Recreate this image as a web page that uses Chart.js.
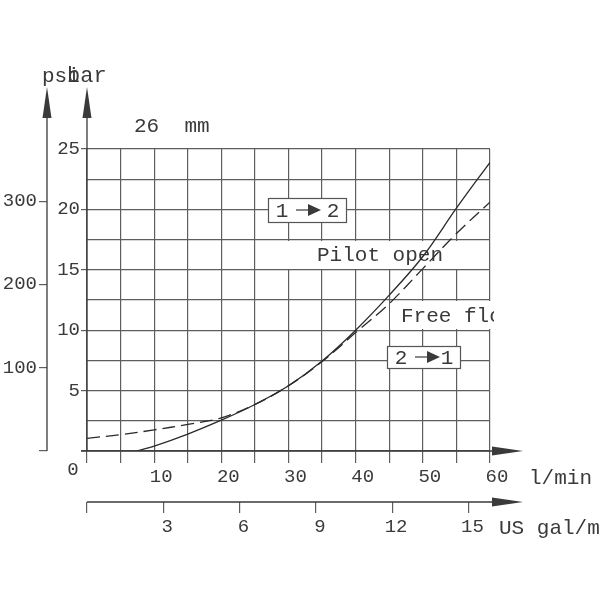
<!DOCTYPE html>
<html>
<head>
<meta charset="utf-8">
<script src="https://cdn.jsdelivr.net/npm/chart.js"></script>
<style>
  body { margin: 0; background: #fff; }
</style>
</head>
<body>
<canvas id="chart" width="600" height="600"></canvas>
<script>
// pressure drop curves, 26 mm valve
var pilotFlow = [7.4, 10, 15, 20, 25, 30, 35, 40, 45, 50, 55, 60];   // l/min, 1 -> 2
var pilotBar  = [0, 0.4, 1.4, 2.55, 3.85, 5.4, 7.45, 10.0, 12.9, 16.1, 20.1, 23.9];
var freeFlow  = [0, 5, 10, 15, 20, 25, 30, 35, 40, 45, 50, 55, 60];   // l/min, 2 -> 1
var freeBar   = [1.05, 1.35, 1.75, 2.2, 2.75, 3.85, 5.4, 7.4, 9.8, 12.2, 15.1, 18.0, 20.6];

var flowTicks = [10, 20, 30, 40, 50, 60];
var barTicks  = [5, 10, 15, 20, 25];
var psiTicks  = [100, 200, 300];
var galTicks  = [3, 6, 9, 12, 15];

var PSI_PER_BAR = 14.5038;
var L_PER_GAL = 3.78541;

var FONT = '"Liberation Mono", "DejaVu Sans Mono", monospace';
var INK = '#3a3a3a';
var GRID = '#5e5e5e';

function points(xs, ys) {
    return xs.map(function (x, i) { return { x: x, y: ys[i] }; });
}

function arrowUp(ctx, x, tip, base) {
    ctx.beginPath();
    ctx.moveTo(x, 451);
    ctx.lineTo(x, base);
    ctx.stroke();
    ctx.beginPath();
    ctx.moveTo(x, tip);
    ctx.lineTo(x - 4.5, base);
    ctx.lineTo(x + 4.5, base);
    ctx.closePath();
    ctx.fill();
}

function arrowRight(ctx, y, x0, base, tip) {
    ctx.beginPath();
    ctx.moveTo(x0, y);
    ctx.lineTo(base, y);
    ctx.stroke();
    ctx.beginPath();
    ctx.moveTo(tip, y);
    ctx.lineTo(base, y - 4.5);
    ctx.lineTo(base, y + 4.5);
    ctx.closePath();
    ctx.fill();
}

function flowBox(ctx, x, y, w, h, a, b) {
    ctx.fillStyle = '#fff';
    ctx.fillRect(x, y, w, h);
    ctx.strokeStyle = '#555';
    ctx.lineWidth = 1.2;
    ctx.strokeRect(x + 0.5, y + 0.5, w, h);
    ctx.fillStyle = INK;
    ctx.font = '21px ' + FONT;
    ctx.textAlign = 'center';
    ctx.textBaseline = 'middle';
    var cy = y + h / 2 + 1;
    ctx.fillText(a, x + 14, cy);
    ctx.fillText(b, x + w - 13, cy);
    // small arrow between the numbers
    ctx.strokeStyle = INK;
    ctx.beginPath();
    ctx.moveTo(x + 28, cy - 1);
    ctx.lineTo(x + 42, cy - 1);
    ctx.stroke();
    ctx.beginPath();
    ctx.moveTo(x + 53, cy - 1);
    ctx.lineTo(x + 40, cy - 7);
    ctx.lineTo(x + 40, cy + 5);
    ctx.closePath();
    ctx.fill();
}

var decorations = {
    id: 'decorations',
    beforeDatasetsDraw: function (chart) {
        var ctx = chart.ctx;
        ctx.save();
        // white label strips over the grid
        ctx.fillStyle = '#fff';
        ctx.fillRect(288, 241, 200, 28);
        ctx.fillRect(390, 301, 105, 28);
        ctx.fillStyle = INK;
        ctx.font = '21px ' + FONT;
        ctx.textAlign = 'left';
        ctx.textBaseline = 'middle';
        ctx.fillText('Pilot open', 317, 255);
        ctx.beginPath();
        ctx.rect(390, 300, 104, 30);
        ctx.clip();
        ctx.fillText('Free flow', 401, 316);
        ctx.restore();
    },
    afterDatasetsDraw: function (chart) {
        var ctx = chart.ctx;
        ctx.save();
        ctx.strokeStyle = INK;
        ctx.fillStyle = INK;
        ctx.lineWidth = 1.3;
        arrowUp(ctx, 47, 87, 118);
        arrowUp(ctx, 87, 87, 118);
        arrowRight(ctx, 451, 81, 492, 523);
        arrowRight(ctx, 502, 87, 492, 523);

        ctx.font = '21px ' + FONT;
        ctx.textBaseline = 'alphabetic';
        ctx.textAlign = 'left';
        ctx.fillText('psi', 42, 82);
        ctx.font = '22px ' + FONT;
        ctx.fillText('bar', 67, 82);
        ctx.font = '21px ' + FONT;
        ctx.fillText('26  mm', 134, 132);
        ctx.textBaseline = 'middle';
        ctx.fillText('l/min', 529, 478);
        ctx.fillText('US gal/min', 499, 528);
        ctx.font = '19px ' + FONT;
        ctx.textAlign = 'center';
        ctx.fillText('0', 73, 470);

        flowBox(ctx, 268, 198, 78, 24, '1', '2');
        flowBox(ctx, 387, 346, 73, 22, '2', '1');
        ctx.restore();
    }
};

var tickFont = { family: FONT, size: 19 };

new Chart(document.getElementById('chart'), {
    type: 'line',
    data: {
        datasets: [{
            label: 'Pilot open 1-2',
            data: points(pilotFlow, pilotBar),
            borderColor: '#2a2a2a',
            borderWidth: 1.3,
            pointRadius: 0,
            tension: 0.35,
            fill: false
        }, {
            label: 'Free flow 2-1',
            data: points(freeFlow, freeBar),
            borderColor: '#2a2a2a',
            borderWidth: 1.3,
            borderDash: [13, 6],
            pointRadius: 0,
            tension: 0.35,
            fill: false
        }]
    },
    options: {
        responsive: false,
        animation: false,
        layout: { padding: { top: 149, right: 110, bottom: 48, left: 0 } },
        plugins: { legend: { display: false }, tooltip: { enabled: false } },
        scales: {
            x: {
                type: 'linear', position: 'bottom', weight: 0,
                min: 0, max: 60,
                afterFit: function (s) { s.height = 51; },
                border: { display: false },
                grid: { color: GRID, lineWidth: 1.2, tickLength: 12, tickColor: GRID },
                ticks: {
                    stepSize: 5, autoSkip: false, maxRotation: 0, labelOffset: 7, padding: 3,
                    font: tickFont, color: INK,
                    callback: function (v) { return flowTicks.indexOf(v) >= 0 ? v : ''; }
                }
            },
            x2: {
                type: 'linear', position: 'bottom', weight: 1,
                min: 0, max: 60 / L_PER_GAL,
                afterFit: function (s) { s.height = 50; },
                border: { display: false },
                grid: { drawOnChartArea: false, tickLength: 11, tickColor: GRID, lineWidth: 1.2 },
                ticks: {
                    stepSize: 3, includeBounds: false, autoSkip: false, maxRotation: 0,
                    labelOffset: 4, padding: 3, font: tickFont, color: INK,
                    callback: function (v) { return galTicks.indexOf(v) >= 0 ? v : ''; }
                }
            },
            y: {
                type: 'linear', position: 'left', weight: 0,
                min: 0, max: 25,
                afterFit: function (s) { s.width = 40; },
                border: { display: false },
                grid: {
                    color: GRID, lineWidth: 1.2, tickLength: 6,
                    tickColor: function (c) {
                        var v = c.tick ? c.tick.value : -1;
                        return (v === 0 || barTicks.indexOf(v) >= 0) ? GRID : 'rgba(0,0,0,0)';
                    }
                },
                ticks: {
                    stepSize: 2.5, autoSkip: false, padding: 1, font: tickFont, color: INK,
                    callback: function (v) { return barTicks.indexOf(v) >= 0 ? v : ''; }
                }
            },
            y2: {
                type: 'linear', position: 'left', weight: 1,
                min: 0, max: 25 * PSI_PER_BAR,
                afterFit: function (s) { s.width = 47; },
                border: { display: false },
                grid: { drawOnChartArea: false, tickLength: 8, tickColor: GRID, lineWidth: 1.2 },
                ticks: {
                    stepSize: 100, includeBounds: false, autoSkip: false, padding: 2,
                    font: tickFont, color: INK,
                    callback: function (v) { return psiTicks.indexOf(v) >= 0 ? v : ''; }
                }
            }
        }
    },
    plugins: [decorations]
});
</script>
</body>
</html>
